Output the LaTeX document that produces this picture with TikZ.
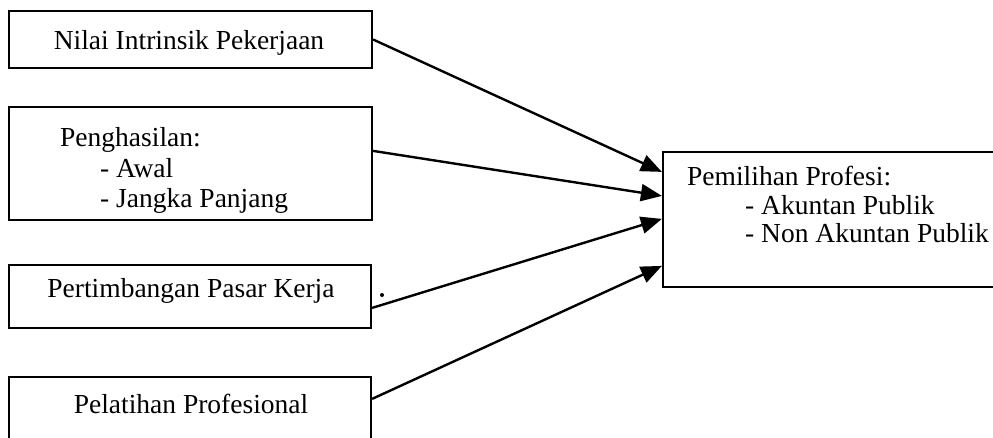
\documentclass[tikz,border=0pt]{standalone}
\usepackage{fontspec}
\setmainfont{Liberation Serif}
\usetikzlibrary{arrows.meta,calc}
\tikzset{
  boxnode/.style={draw=black, line width=2.2pt, rectangle, inner sep=0pt, fill=white},
  txt/.style={inner sep=0pt, anchor=base west, font=\fontsize{27.5}{30}\selectfont},
  ctxt/.style={inner sep=0pt, anchor=base, font=\fontsize{27.5}{30}\selectfont},
  conn/.style={line width=2.4pt, -{Triangle[length=21pt,width=17pt]}, shorten >=0pt}
}
\begin{document}
\begin{tikzpicture}[x=1pt,y=-1pt]
\clip (0,0) rectangle (993,438);
\fill[white] (0,0) rectangle (993,438);
% left boxes
\node[boxnode, minimum width=363pt, minimum height=57pt] (b1) at (190.5,39.5) {};
\node[boxnode, minimum width=363pt, minimum height=113pt] (b2) at (190.5,163.5) {};
\node[boxnode, minimum width=362pt, minimum height=63pt] (b3) at (190,296.5) {};
\node[boxnode, minimum width=362pt, minimum height=90pt] (b4) at (190,422) {};
% right box
\node[boxnode, minimum width=350pt, minimum height=135pt] (r) at (838,219.5) {};
% texts
\node[ctxt] (t1) at (189,50) {Nilai Intrinsik Pekerjaan};
\node[txt] (t2a) at (60,147) {Penghasilan:};
\node[txt] (t2b) at (100,178) {- Awal};
\node[txt] (t2c) at (100,208) {- Jangka Panjang};
\node[ctxt] (t3) at (191,298) {Pertimbangan Pasar Kerja};
\node[ctxt] (t4) at (191,413) {Pelatihan Profesional};
\node[txt] (tra) at (687,186) {Pemilihan Profesi:};
\node[txt] (trb) at (745,215) {- Akuntan Publik};
\node[txt] (trc) at (745,243) {- Non Akuntan Publik};
% stray dot
\fill (382,295) circle (2pt);
% connector end points
\coordinate (s1) at (b1.east);
\coordinate (s2) at ($(b2.north east)+(0,45)$);
\coordinate (s3) at ($(b3.north east)+(0,44)$);
\coordinate (s4) at ($(b4.north east)+(0,23)$);
\coordinate (e1) at ($(r.north west)+(0,21)$);
\coordinate (e2) at ($(r.north west)+(0,45)$);
\coordinate (e3) at ($(r.north west)+(0,68)$);
\coordinate (e4) at ($(r.north west)+(0,115)$);
\draw[conn] (s1) -- (e1);
\draw[conn] (s2) -- (e2);
\draw[conn] (s3) -- (e3);
\draw[conn] (s4) -- (e4);
\end{tikzpicture}
\end{document}
